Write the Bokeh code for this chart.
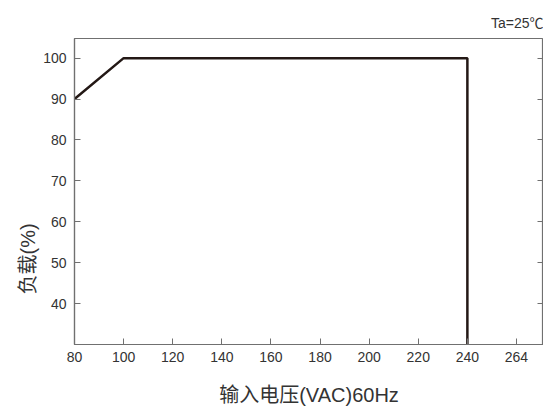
from bokeh.plotting import figure
from bokeh.models import LinearAxis, FixedTicker, Range1d, Title
from bokeh.embed import file_html
from bokeh.resources import INLINE

voltage = [80, 100, 240, 240]
load = [90, 100, 100, 30]
x_ticks = [80, 100, 120, 140, 160, 180, 200, 220, 240, 260]
x_tick_labels = {260: "264"}
y_ticks = [40, 50, 60, 70, 80, 90, 100]

FONT = "Liberation Sans, Noto Sans CJK SC"
AX = "#707070"
TXT = "#333333"

p = figure(width=543, height=408, output_backend="svg", toolbar_location=None,
           x_range=Range1d(80, 271), y_range=Range1d(30, 104.8),
           min_border_left=74, min_border_top=38, min_border_right=0, min_border_bottom=61,
           x_axis_label="输入电压(VAC)60Hz",
           title="Ta=25℃")

p.title.align = "right"
p.title.text_font = FONT
p.title.text_font_size = "14px"
p.title.text_font_style = "normal"
p.title.text_color = TXT
p.title.standoff = 16

p.grid.visible = False
p.outline_line_color = AX
p.outline_line_width = 1.2

p.xaxis.ticker = FixedTicker(ticks=x_ticks)
p.xaxis.major_label_overrides = x_tick_labels
p.yaxis.ticker = FixedTicker(ticks=y_ticks)

for ax in (p.xaxis[0], p.yaxis[0]):
    ax.axis_line_color = AX
    ax.axis_line_width = 1.2
    ax.major_tick_line_color = AX
    ax.major_tick_in = 6
    ax.major_tick_out = 0
    ax.minor_tick_line_color = None
    ax.major_label_text_font = FONT
    ax.major_label_text_font_size = "14px"
    ax.major_label_text_color = TXT
    ax.axis_label_text_font = FONT
    ax.axis_label_text_font_size = "20px"
    ax.axis_label_text_font_style = "normal"
    ax.axis_label_text_color = TXT

p.xaxis.major_label_standoff = 7
p.xaxis.axis_label_standoff = 19
p.yaxis.major_label_standoff = 8

right = LinearAxis(ticker=FixedTicker(ticks=y_ticks))
right.axis_line_color = AX
right.major_tick_line_color = AX
right.major_tick_in = 6
right.major_tick_out = 0
right.minor_tick_line_color = None
right.major_label_text_font_size = "0px"
right.major_label_standoff = 0
p.add_layout(right, "right")

ylab = Title(text="负载(%)", align="left", offset=50, standoff=4,
             text_font=FONT, text_font_size="20px", text_font_style="normal",
             text_color=TXT)
p.add_layout(ylab, "left")

p.line(voltage, load, line_color="#231815", line_width=2.5)

open("out.html", "w").write(file_html(p, INLINE))
